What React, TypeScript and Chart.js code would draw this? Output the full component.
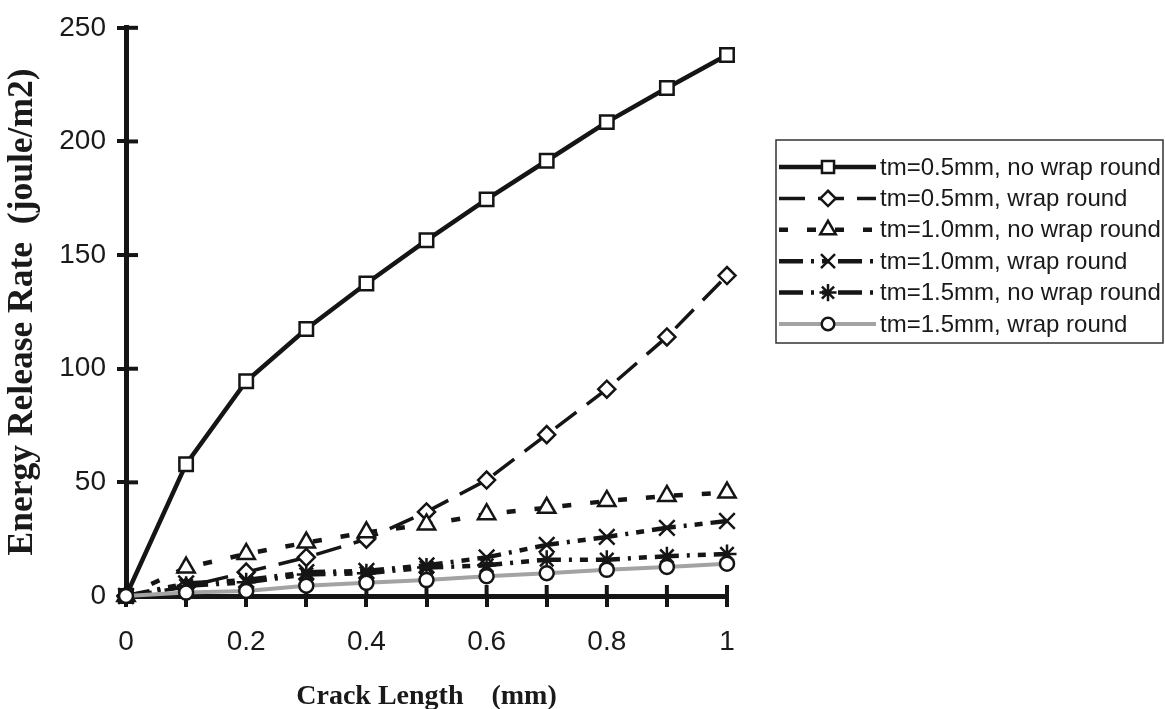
import React, { useEffect, useRef } from 'react';
import { Chart, registerables } from 'chart.js';

Chart.register(...registerables);

// ---- data ----
const crackLength = [0, 0.1, 0.2, 0.3, 0.4, 0.5, 0.6, 0.7, 0.8, 0.9, 1.0];
const tm05NoWrap = [0, 58, 94.5, 117.5, 137.5, 156.5, 174.5, 191.5, 208.5, 223.5, 238];
const tm05Wrap = [0, 4, 10.5, 17, 25, 37, 51, 71, 91, 114, 141];
const tm10NoWrap = [0, 12.5, 18.5, 23.5, 28, 31.5, 36, 38.8, 41.8, 44, 45.5];
const tm10Wrap = [0, 5.5, 7, 10.5, 11, 13.5, 17, 22.5, 26, 30, 33];
const tm15NoWrap = [0, 4.5, 6, 9.5, 10, 12.5, 13.5, 16, 16, 17.5, 18.5];
const tm15Wrap = [0, 1.5, 2.2, 4.5, 5.8, 7, 8.7, 10, 11.5, 12.8, 14.2];

const seriesLabels = [
  'tm=0.5mm, no wrap round',
  'tm=0.5mm, wrap round',
  'tm=1.0mm, no wrap round',
  'tm=1.0mm, wrap round',
  'tm=1.5mm, no wrap round',
  'tm=1.5mm, wrap round',
];
const seriesValues = [tm05NoWrap, tm05Wrap, tm10NoWrap, tm10Wrap, tm15NoWrap, tm15Wrap];

const xTickLabels = ['0', '0.2', '0.4', '0.6', '0.8', '1'];
const yTickLabels = ['0', '50', '100', '150', '200', '250'];

const xTitle = 'Crack Length    (mm)';
const yTitle = 'Energy Release Rate  (joule/m2)';

// ---- styles ----
const INK = '#151515';
const GRAY = '#a3a3a3';
const styles = [
  { color: INK, width: 4.5, dash: [] as number[], point: 'rect', radius: 9.5 },
  { color: INK, width: 3.5, dash: [26, 13], point: 'rectRot', radius: 8.5 },
  { color: INK, width: 4.5, dash: [9, 19], point: 'triangle', radius: 10 },
  { color: INK, width: 4.5, dash: [24, 8, 3, 8, 8, 8], point: 'crossRot', radius: 11 },
  { color: INK, width: 4.5, dash: [24, 8, 3, 8, 8, 8], point: 'star', radius: 9.5 },
  { color: GRAY, width: 4, dash: [] as number[], point: 'circle', radius: 7 },
];

function drawMarker(ctx: CanvasRenderingContext2D, kind: string, x: number, y: number, r: number) {
  ctx.save();
  ctx.setLineDash([]);
  ctx.strokeStyle = INK;
  ctx.fillStyle = '#fff';
  ctx.lineWidth = 2.5;
  ctx.beginPath();
  if (kind === 'rect') {
    const s = r * Math.SQRT1_2;
    ctx.rect(x - s, y - s, 2 * s, 2 * s);
    ctx.fill();
    ctx.stroke();
  } else if (kind === 'rectRot') {
    ctx.moveTo(x, y - r);
    ctx.lineTo(x + r, y);
    ctx.lineTo(x, y + r);
    ctx.lineTo(x - r, y);
    ctx.closePath();
    ctx.fill();
    ctx.stroke();
  } else if (kind === 'triangle') {
    ctx.moveTo(x, y - r);
    ctx.lineTo(x + r * 0.866, y + r * 0.5);
    ctx.lineTo(x - r * 0.866, y + r * 0.5);
    ctx.closePath();
    ctx.fill();
    ctx.stroke();
  } else if (kind === 'crossRot') {
    const d = r * 0.707;
    ctx.moveTo(x - d, y - d); ctx.lineTo(x + d, y + d);
    ctx.moveTo(x + d, y - d); ctx.lineTo(x - d, y + d);
    ctx.stroke();
  } else if (kind === 'star') {
    const d = r * 0.707;
    ctx.moveTo(x - d, y - d); ctx.lineTo(x + d, y + d);
    ctx.moveTo(x + d, y - d); ctx.lineTo(x - d, y + d);
    ctx.moveTo(x, y - r); ctx.lineTo(x, y + r);
    ctx.moveTo(x - r, y); ctx.lineTo(x + r, y);
    ctx.stroke();
  } else {
    ctx.arc(x, y, r, 0, Math.PI * 2);
    ctx.fill();
    ctx.stroke();
  }
  ctx.restore();
}

const innerTicksPlugin = {
  id: 'innerTicks',
  beforeDatasetsDraw(chart: any) {
    const { ctx, chartArea, scales } = chart;
    ctx.save();
    ctx.strokeStyle = INK;
    ctx.lineWidth = 4;
    scales.x.ticks.forEach((t: any) => {
      const px = scales.x.getPixelForValue(t.value);
      ctx.beginPath();
      ctx.moveTo(px, chartArea.bottom);
      ctx.lineTo(px, chartArea.bottom - 11);
      ctx.stroke();
    });
    scales.y.ticks.forEach((t: any) => {
      const py = scales.y.getPixelForValue(t.value);
      ctx.beginPath();
      ctx.moveTo(chartArea.left, py);
      ctx.lineTo(chartArea.left + 12, py);
      ctx.stroke();
    });
    ctx.restore();
  },
};

const legendPlugin = {
  id: 'sideLegend',
  afterDraw(chart: any) {
    const { ctx, chartArea } = chart;
    const bx = chartArea.right + 49;
    const by = 140;
    const bw = 387;
    const bh = 203;
    ctx.save();
    ctx.strokeStyle = '#333';
    ctx.lineWidth = 1.5;
    ctx.strokeRect(bx, by, bw, bh);
    ctx.font = '24px "Liberation Sans", Arial, sans-serif';
    ctx.fillStyle = '#1a1a1a';
    ctx.textBaseline = 'middle';
    seriesLabels.forEach((label, i) => {
      const st = styles[i];
      const y = by + 27 + i * 31.4;
      ctx.save();
      ctx.strokeStyle = st.color;
      ctx.lineWidth = st.width;
      ctx.setLineDash(st.dash);
      ctx.beginPath();
      ctx.moveTo(bx + 3, y);
      ctx.lineTo(bx + 100, y);
      ctx.stroke();
      ctx.restore();
      drawMarker(ctx, st.point, bx + 52, y, st.radius * 0.9);
      ctx.fillText(label, bx + 104, y + 1);
    });
    ctx.restore();
  },
};

export default function App() {
  const ref = useRef<HTMLCanvasElement | null>(null);

  useEffect(() => {
    if (!ref.current) return;
    const datasets = seriesValues.map((vals, i) => {
      const st = styles[i];
      return {
        label: seriesLabels[i],
        data: crackLength.map((x, j) => ({ x, y: vals[j] })),
        borderColor: st.color,
        borderWidth: st.width,
        borderDash: st.dash,
        pointStyle: st.point,
        pointRadius: st.radius,
        pointBorderColor: INK,
        pointBackgroundColor: '#ffffff',
        pointBorderWidth: 2.5,
        fill: false,
        tension: 0,
        clip: false as any,
        order: 6 - i,
      };
    });

    const chart = new Chart(ref.current, {
      type: 'line',
      data: { datasets },
      options: {
        animation: false,
        responsive: true,
        maintainAspectRatio: false,
        layout: { padding: { top: 22, right: 438, bottom: 0, left: 0 } },
        plugins: { legend: { display: false }, tooltip: { enabled: false } },
        scales: {
          x: {
            type: 'linear',
            min: 0,
            max: 1,
            afterFit: (s: any) => { s.height = 113; },
            ticks: {
              stepSize: 0.1,
              autoSkip: false,
              maxRotation: 0,
              padding: 18,
              color: '#1a1a1a',
              font: { family: '"Liberation Sans", Arial, sans-serif', size: 28 },
              callback: (_v: any, i: number) => (i % 2 === 0 ? xTickLabels[i / 2] : ''),
            },
            grid: { display: true, drawOnChartArea: false, drawTicks: true, tickLength: 11, color: INK, lineWidth: 4 },
            border: { display: true, color: INK, width: 5 },
            title: {
              display: true,
              text: xTitle,
              color: '#1a1a1a',
              font: { family: '"Liberation Serif", "Times New Roman", serif', size: 28, weight: 'bold', lineHeight: 1 },
              padding: { top: 0, bottom: -2 },
            },
          },
          y: {
            type: 'linear',
            min: 0,
            max: 250,
            afterFit: (s: any) => { s.width = 126; },
            ticks: {
              stepSize: 50,
              padding: 11,
              color: '#1a1a1a',
              font: { family: '"Liberation Sans", Arial, sans-serif', size: 28 },
              callback: (_v: any, i: number) => yTickLabels[i],
            },
            grid: { display: true, drawOnChartArea: false, drawTicks: true, tickLength: 9, color: INK, lineWidth: 4 },
            border: { display: true, color: INK, width: 5 },
            title: {
              display: true,
              text: yTitle,
              color: '#1a1a1a',
              font: { family: '"Liberation Serif", "Times New Roman", serif', size: 35.5, weight: 'bold', lineHeight: 1 },
              padding: { top: 5, bottom: 0 },
            },
          },
        },
      },
      plugins: [innerTicksPlugin, legendPlugin],
    });
    return () => chart.destroy();
  }, []);

  return (
    <div style={{ position: 'absolute', left: 0, top: 0, width: 1165, height: 709, background: '#fff' }}>
      <canvas ref={ref} />
    </div>
  );
}
